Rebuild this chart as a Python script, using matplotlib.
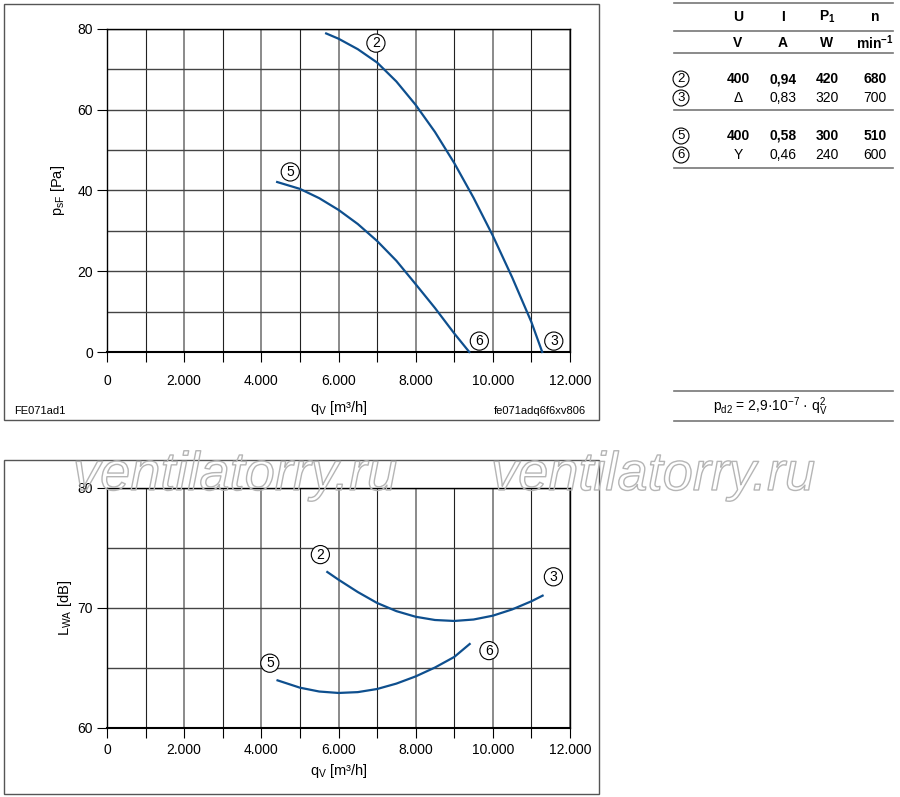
import matplotlib
matplotlib.use("Agg")
import matplotlib.pyplot as plt
import matplotlib.patheffects as pe
from matplotlib.patches import Rectangle
from matplotlib.lines import Line2D

plt.rcParams['font.family'] = ['Liberation Sans', 'DejaVu Sans']
plt.rcParams['mathtext.fontset'] = 'custom'
plt.rcParams['mathtext.rm'] = 'Liberation Sans'
plt.rcParams['mathtext.it'] = 'Liberation Sans:italic'
plt.rcParams['mathtext.bf'] = 'Liberation Sans:bold'

# pressure curves (q_V in m3/h, p_sF in Pa)
q_23 = [5680, 6000, 6500, 7000, 7500, 8000, 8500, 9000, 9500, 10000, 10500, 11000, 11280]
p_23 = [78.9, 77.6, 75.0, 71.7, 67.0, 61.2, 54.5, 46.8, 38.2, 28.8, 18.5, 7.4, 0.0]
q_56 = [4410, 5000, 5500, 6000, 6500, 7000, 7500, 8000, 8500, 9000, 9390]
p_56 = [42.1, 40.4, 38.1, 35.2, 31.7, 27.5, 22.6, 16.8, 10.9, 4.6, 0.0]

# sound power curves (L_WA in dB)
qs_23 = [5710, 6000, 6500, 7000, 7500, 8000, 8500, 9000, 9500, 10000, 10500, 11000, 11290]
lw_23 = [73.0, 72.36, 71.33, 70.42, 69.74, 69.27, 69.0, 68.92, 69.04, 69.36, 69.88, 70.56, 71.03]
qs_56 = [4420, 5000, 5500, 6000, 6500, 7000, 7500, 8000, 8500, 9000, 9400]
lw_56 = [63.97, 63.36, 63.04, 62.92, 62.99, 63.25, 63.7, 64.3, 65.04, 65.92, 67.0]

# curve labels: (text, q, value)
p_labels = [('2', 6970, 76.5), ('5', 4750, 44.6), ('6', 9650, 2.7), ('3', 11580, 2.7)]
l_labels = [('2', 5530, 74.45), ('3', 11570, 72.6), ('5', 4220, 65.4), ('6', 9900, 66.45)]

x_ticks = [0, 2000, 4000, 6000, 8000, 10000, 12000]
x_ticklabels = ['0', '2.000', '4.000', '6.000', '8.000', '10.000', '12.000']

# table
tab_head = ['U', 'I', r'P$_{\mathbf{1}}$', 'n']
tab_units = ['V', 'A', 'W', r'min$^{\mathbf{-1}}$']
tab_rows = [('2', ['400', '0,94', '420', '680'], True),
            ('3', ['\u0394', '0,83', '320', '700'], False),
            ('5', ['400', '0,58', '300', '510'], True),
            ('6', ['Y', '0,46', '240', '600'], False)]

W, H = 900, 797
blue = '#0e4f8e'


def fx(px):
    return px / W


def fy(py):
    return 1 - py / H


fig = plt.figure(figsize=(9, 7.97), dpi=100)


def circ(ax, txt, x, y, fs=10, trans=None):
    kw = dict(ha='center', va='center', fontsize=fs, zorder=6,
              bbox=dict(boxstyle='circle,pad=0.15', fc='white', ec='black', lw=0.8))
    if trans is not None:
        kw['transform'] = trans
    ax.text(x, y, txt, **kw)


def style_axes(ax, ymin, ymax, ymajor, yminor, xpad):
    ax.set_xlim(0, 12000)
    ax.set_ylim(ymin, ymax)
    ax.set_xticks(x_ticks)
    ax.set_xticklabels(x_ticklabels, fontsize=10)
    ax.set_xticks(range(1000, 12000, 2000), minor=True)
    ax.set_yticks(ymajor)
    ax.set_yticklabels([str(v) for v in ymajor], fontsize=10)
    ax.set_yticks(yminor, minor=True)
    ax.tick_params(axis='x', which='both', direction='out', length=7, width=0.8, pad=xpad)
    ax.tick_params(axis='y', which='major', direction='out', length=7, width=0.8, pad=3)
    ax.tick_params(axis='y', which='minor', length=0)
    ax.grid(True, axis='x', which='major', color='#8a8a8a', lw=1.4)
    ax.grid(True, axis='x', which='minor', color='#222222', lw=0.8)
    ax.grid(True, axis='y', which='both', color='#444444', lw=1.0)
    for s in ax.spines.values():
        s.set_color('black')
        s.set_linewidth(1.0)
    ax.spines['bottom'].set_linewidth(1.5)


# frames
for (x0, y0, x1, y1) in [(4, 4, 599, 420), (4, 460, 599, 794)]:
    fig.patches.append(Rectangle((fx(x0), fy(y1)), fx(x1 - x0), (y1 - y0) / H,
                                 transform=fig.transFigure, fill=False,
                                 ec='#555555', lw=1.0))

# top chart
ax1 = fig.add_axes([fx(107), fy(352), fx(570 - 107), (352 - 29) / H])
style_axes(ax1, 0, 80, [0, 20, 40, 60, 80], [10, 30, 50, 70], 9)
ax1.plot(q_23, p_23, color=blue, lw=1.6, zorder=5, clip_on=False)
ax1.plot(q_56, p_56, color=blue, lw=1.6, zorder=5, clip_on=False)
for t, x, y in p_labels:
    circ(ax1, t, x, y)
ax1.set_ylabel(r'p$_{\mathrm{sF}}$ [Pa]', fontsize=10.5, labelpad=7.5)
ax1.set_xlabel(r'q$_{\mathrm{V}}$ [m³/h]', fontsize=10.5, labelpad=8)
fig.text(fx(14), fy(411), 'FE071ad1', fontsize=8, ha='left', va='center')
fig.text(fx(586), fy(411), 'fe071adq6f6xv806', fontsize=8, ha='right', va='center')

# bottom chart
ax2 = fig.add_axes([fx(107), fy(728), fx(570 - 107), (728 - 488) / H])
style_axes(ax2, 60, 80, [60, 70, 80], [65, 75], 3.5)
ax2.plot(qs_23, lw_23, color=blue, lw=1.6, zorder=5)
ax2.plot(qs_56, lw_56, color=blue, lw=1.6, zorder=5)
for t, x, y in l_labels:
    circ(ax2, t, x, y)
ax2.set_ylabel(r'L$_{\mathrm{WA}}$ [dB]', fontsize=10.5, labelpad=2.5)
ax2.set_xlabel(r'q$_{\mathrm{V}}$ [m³/h]', fontsize=10.5, labelpad=4)

# table
line_kw = dict(transform=fig.transFigure, color='#777777', lw=1.2)
for py in [3, 31, 53, 110, 168]:
    fig.lines.append(Line2D([fx(674), fx(893)], [fy(py), fy(py)], **line_kw))
cols = [738, 783, 827, 875]
for cx, h in zip(cols, tab_head):
    fig.text(fx(cx), fy(17), h, ha='center', va='center', fontsize=10, fontweight='bold')
for cx, u in zip(cols, tab_units):
    fig.text(fx(cx), fy(43), u, ha='center', va='center', fontsize=10, fontweight='bold')
for (num, vals, bold), py in zip(tab_rows, [79, 98, 136, 155]):
    circ(fig, num, fx(681), fy(py), fs=9.5, trans=fig.transFigure)
    for cx, v in zip(cols, vals):
        fig.text(fx(cx), fy(py), v, ha='center', va='center', fontsize=10,
                 fontweight='bold' if bold else 'normal')

# formula
for py in [391, 421]:
    fig.lines.append(Line2D([fx(674), fx(893)], [fy(py), fy(py)], **line_kw))
fig.text(fx(770), fy(407), r'p$_{\mathrm{d2}}$ = 2,9·10$^{-7}$ · q$_{\mathrm{V}}^{2}$',
         ha='center', va='center', fontsize=10)

# watermark (outlined letters only)
for cx in [235, 653]:
    fig.text(fx(cx), fy(490), 'ventilatorry.ru', ha='center', va='baseline',
             fontsize=39, style='italic', color=(1, 1, 1, 0), zorder=20,
             path_effects=[pe.Stroke(linewidth=1.0, foreground='#b5b5b5')])

fig.savefig('out.png', dpi=100)
